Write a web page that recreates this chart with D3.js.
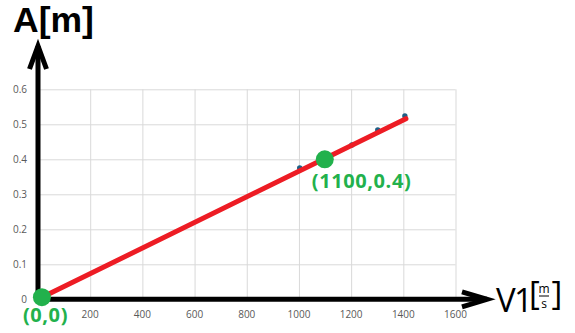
<!DOCTYPE html>
<html>
<head>
<meta charset="utf-8">
<script src="https://cdn.jsdelivr.net/npm/d3@7"></script>
<style>
  body { margin: 0; background: #fff; }
  svg { display: block; }
  .tick-label { font-family: 'Open Sans', sans-serif; font-size: 10px; fill: #595959; }
</style>
</head>
<body>
<svg id="chart"></svg>
<script>
const xTicks = [200, 400, 600, 800, 1000, 1200, 1400, 1600]
const yTicks = [0, 0.1, 0.2, 0.3, 0.4, 0.5, 0.6]

// measured samples (mostly hidden under the trend line)
const samplesV = [1003, 1203, 1302, 1406]
const samplesA = [0.375, 0.441, 0.484, 0.524]

// linear trend line end points
const trendV = [0, 1410]
const trendA = [0, 0.516]

// highlighted points and their labels
const markedV = [15, 1099]
const markedA = [0.006, 0.4]
const markedLabels = ['(0,0)', '(1100,0.4)']

const green = '#22b14c'

const width = 575
const height = 333
const plot = { left: 38, right: 455.5, top: 89.3, bottom: 299.3 }

const x = d3.scaleLinear().domain([0, 1600]).range([plot.left, plot.right])
const y = d3.scaleLinear().domain([0, 0.6]).range([plot.bottom, plot.top])

const svg = d3.select('#chart')
  .attr('width', width)
  .attr('height', height)

// grid
svg.append('g')
  .attr('class', 'x grid')
  .attr('transform', `translate(0, ${plot.bottom})`)
  .call(d3.axisBottom(x).tickValues(xTicks).tickSize(-(plot.bottom - plot.top)).tickFormat(''))
  .call(g => g.select('.domain').remove())
  .call(g => g.selectAll('line').attr('stroke', '#d9d9d9'))

svg.append('g')
  .attr('class', 'y grid')
  .attr('transform', `translate(${plot.left}, 0)`)
  .call(d3.axisLeft(y).tickValues(yTicks.slice(1)).tickSize(-(plot.right - plot.left)).tickFormat(''))
  .call(g => g.select('.domain').remove())
  .call(g => g.selectAll('line').attr('stroke', '#d9d9d9'))

// tick labels
svg.append('g')
  .selectAll('text')
  .data(xTicks)
  .join('text')
  .attr('class', 'tick-label')
  .attr('x', d => x(d))
  .attr('y', 318)
  .attr('text-anchor', 'middle')
  .text(d => d)

svg.append('g')
  .selectAll('text')
  .data(yTicks)
  .join('text')
  .attr('class', 'tick-label')
  .attr('x', 27)
  .attr('y', d => y(d) + 3.5)
  .attr('text-anchor', 'end')
  .text(d => d)

// samples
svg.append('g')
  .selectAll('circle')
  .data(samplesV.map((v, i) => ({ v, a: samplesA[i] })))
  .join('circle')
  .attr('cx', d => x(d.v))
  .attr('cy', d => y(d.a))
  .attr('r', 2.7)
  .attr('fill', '#1f5f86')

// trend line
svg.append('path')
  .datum(trendV.map((v, i) => ({ v, a: trendA[i] })))
  .attr('d', d3.line().x(d => x(d.v)).y(d => y(d.a)))
  .attr('fill', 'none')
  .attr('stroke', '#ed1c24')
  .attr('stroke-width', 5)
  .attr('stroke-linecap', 'round')

// hand drawn axes with arrows
const x0 = x(0)
const y0 = y(0)
const axes = svg.append('g')
  .attr('fill', 'none')
  .attr('stroke', '#000')
  .attr('stroke-width', 5)

axes.append('line')
  .attr('x1', x0).attr('y1', y0 + 2.5)
  .attr('x2', x0).attr('y2', 46)
axes.append('polyline')
  .attr('points', [[x0 - 8.5, 69], [x0, 46], [x0 + 8.5, 69]].join(' '))
  .attr('stroke-linejoin', 'miter')

axes.append('line')
  .attr('x1', x0 - 2.5).attr('y1', y0)
  .attr('x2', 487).attr('y2', y0)
axes.append('polyline')
  .attr('points', [[462, y0 - 7.5], [487, y0], [462, y0 + 7.5]].join(' '))
  .attr('stroke-linejoin', 'miter')

// highlighted points
const marked = markedV.map((v, i) => ({ v, a: markedA[i], label: markedLabels[i] }))
const labelOffset = [[-19, 25], [-13, 29]]

svg.append('g')
  .selectAll('circle')
  .data(marked)
  .join('circle')
  .attr('cx', d => x(d.v))
  .attr('cy', d => y(d.a))
  .attr('r', 9)
  .attr('fill', green)

svg.append('g')
  .selectAll('text')
  .data(marked)
  .join('text')
  .attr('x', (d, i) => x(d.v) + labelOffset[i][0])
  .attr('y', (d, i) => y(d.a) + labelOffset[i][1])
  .attr('font-family', "'Open Sans', sans-serif")
  .attr('font-weight', 'bold')
  .attr('font-size', 20)
  .attr('letter-spacing', 0.6)
  .attr('fill', green)
  .text(d => d.label)

// axis titles
svg.append('text')
  .attr('x', 13)
  .attr('y', 32)
  .attr('font-family', "'Liberation Sans', Arial, sans-serif")
  .attr('font-weight', 'bold')
  .attr('font-size', 35.5)
  .text('A[m]')

const unit = svg.append('g')
  .attr('font-family', "'Open Sans', sans-serif")
  .attr('fill', '#000')

unit.append('text').attr('x', 496).attr('y', 312).attr('font-size', 33).text('V')
unit.append('text').attr('x', 514).attr('y', 312).attr('font-size', 33).text('1')
unit.append('text').attr('x', 529).attr('y', 305).attr('font-size', 33).text('[')
unit.append('text').attr('x', 544).attr('y', 293).attr('font-size', 12).attr('text-anchor', 'middle').text('m')
unit.append('line')
  .attr('x1', 539).attr('x2', 549)
  .attr('y1', 296).attr('y2', 296)
  .attr('stroke', '#000').attr('stroke-width', 1)
unit.append('text').attr('x', 544).attr('y', 308).attr('font-size', 12).attr('text-anchor', 'middle').text('s')
unit.append('text').attr('x', 551.5).attr('y', 305).attr('font-size', 33).text(']')
</script>
</body>
</html>
